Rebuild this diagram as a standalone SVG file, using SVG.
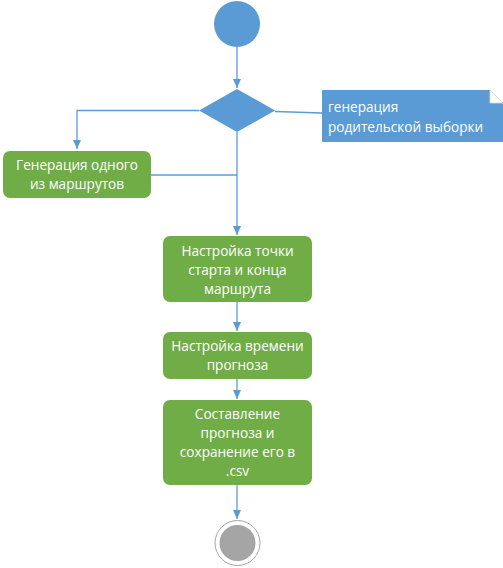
<svg xmlns="http://www.w3.org/2000/svg" width="503" height="568" viewBox="0 0 503 568">
<style>
.act{fill:#70ad47;}
.t{font-family:"Open Sans","Noto Sans","DejaVu Sans",sans-serif;font-size:13.6px;fill:#ffffff;text-anchor:middle;}
.tl{text-anchor:start;}
.c{fill:none;stroke:#5b9bd5;stroke-width:1.3;}
</style>
<defs>
<marker id="ah" markerWidth="10" markerHeight="10" refX="9" refY="4" orient="auto" markerUnits="userSpaceOnUse">
<path d="M0,0 L9,4 L0,8 z" fill="#5b9bd5"/>
</marker>
</defs>
<rect width="503" height="568" fill="#ffffff"/>
<g id="connectors">
<path class="c" d="M237,47 V88" marker-end="url(#ah)"/>
<path class="c" d="M199,110.5 H77 V149" marker-end="url(#ah)"/>
<path class="c" d="M275,111.5 L322,113"/>
<path class="c" d="M237,132 V235" marker-end="url(#ah)"/>
<path class="c" d="M151,175 H237"/>
<path class="c" d="M237,302 V331" marker-end="url(#ah)"/>
<path class="c" d="M237,379 V399" marker-end="url(#ah)"/>
<path class="c" d="M237,485 V519" marker-end="url(#ah)"/>
</g>
<g id="start"><circle cx="237" cy="24" r="23" fill="#5b9bd5"/></g>
<g id="decision"><polygon points="237,89 275,110.5 237,132 199,110.5" fill="#5b9bd5"/></g>
<g id="note">
<path d="M322,90 H490 L503,103 V142 H322 Z" fill="#5b9bd5"/>
<path d="M490,90 L503,103 H490 Z" fill="#ffffff" stroke="#d9d9d9" stroke-width="0.8"/>
<text class="t tl" x="328" y="112">генерация</text>
<text class="t tl" x="328" y="132">родительской выборки</text>
</g>
<g id="gen">
<rect class="act" x="3" y="151" width="148" height="47" rx="7"/>
<text class="t" x="77" y="170">Генерация одного</text>
<text class="t" x="77" y="189">из маршрутов</text>
</g>
<g id="setup">
<rect class="act" x="163" y="236" width="149" height="66" rx="7"/>
<text class="t" x="237.5" y="256">Настройка точки</text>
<text class="t" x="237.5" y="275">старта и конца</text>
<text class="t" x="237.5" y="294">маршрута</text>
</g>
<g id="time">
<rect class="act" x="163" y="332" width="149" height="47" rx="7"/>
<text class="t" x="237.5" y="351">Настройка времени</text>
<text class="t" x="237.5" y="370">прогноза</text>
</g>
<g id="forecast">
<rect class="act" x="163" y="400" width="149" height="85" rx="7"/>
<text class="t" x="237.5" y="419">Составление</text>
<text class="t" x="237.5" y="438">прогноза и</text>
<text class="t" x="237.5" y="457">сохранение его в</text>
<text class="t" x="237.5" y="476">.csv</text>
</g>
<g id="end">
<circle cx="237.5" cy="543" r="22.5" fill="#ffffff" stroke="#a5a5a5" stroke-width="1"/>
<circle cx="237.5" cy="543" r="18" fill="#a5a5a5"/>
</g>
</svg>
